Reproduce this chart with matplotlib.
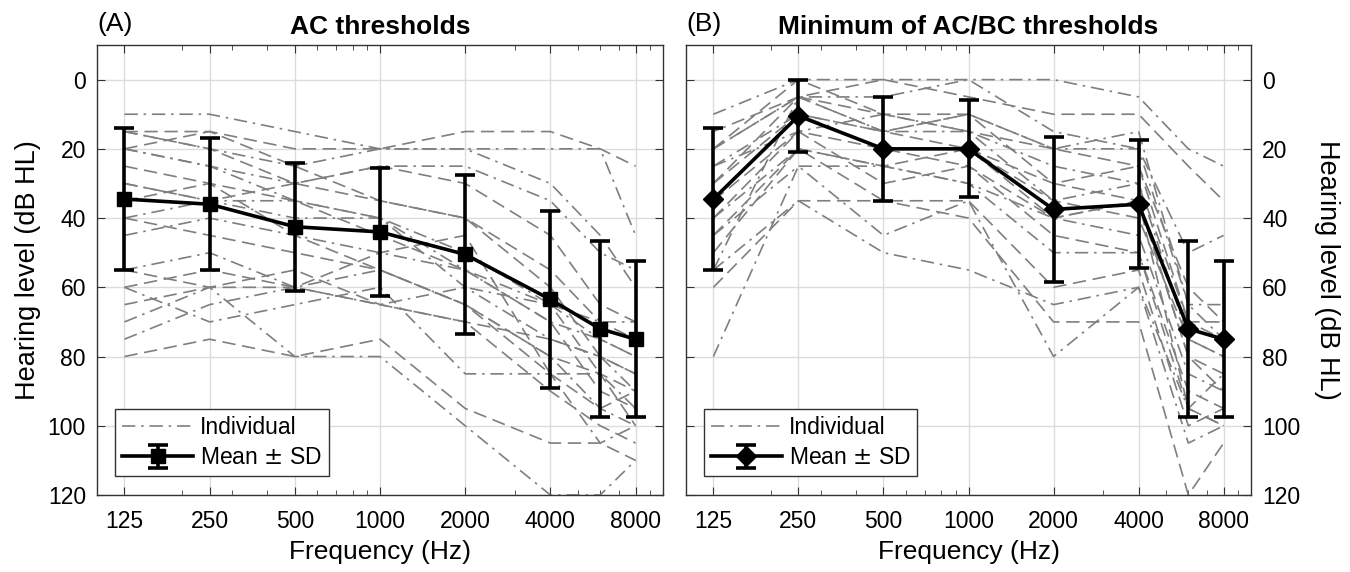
import matplotlib
matplotlib.use("Agg")
import matplotlib.pyplot as plt
from matplotlib.ticker import LogLocator, NullFormatter
from matplotlib.lines import Line2D

plt.rcParams['font.family'] = ['Liberation Sans', 'DejaVu Sans']

# audiometric frequencies (Hz)
freqs = [125, 250, 500, 1000, 2000, 4000, 6000, 8000]
tick_freqs = [125, 250, 500, 1000, 2000, 4000, 8000]
tick_labels = ['125', '250', '500', '1000', '2000', '4000', '8000']

# panel A: AC thresholds, individual ears (dB HL)
ac_individual = [
    [10, 10, 15, 20, 20, 30, 45, 60],
    [15, 15, 20, 20, 15, 15, 20, 25],
    [15, 20, 25, 20, 20, 20, 20, 45],
    [15, 20, 30, 35, 40, 55, 70, 75],
    [20, 25, 30, 25, 25, 35, 50, 55],
    [20, 15, 25, 35, 40, 60, 80, 85],
    [20, 25, 35, 40, 50, 65, 85, 95],
    [30, 35, 30, 25, 30, 45, 65, 70],
    [30, 35, 40, 40, 55, 70, 75, 80],
    [35, 30, 35, 45, 55, 70, 90, 95],
    [40, 35, 35, 40, 60, 75, 80, 90],
    [40, 45, 50, 55, 65, 80, 85, 90],
    [45, 40, 45, 50, 55, 65, 70, 70],
    [55, 60, 60, 50, 45, 85, 85, 100],
    [55, 50, 60, 65, 60, 65, 75, 80],
    [60, 55, 60, 65, 70, 75, 80, 85],
    [60, 70, 65, 60, 85, 85, 105, 100],
    [65, 60, 55, 65, 70, 90, 100, 105],
    [75, 65, 60, 55, 65, 80, 95, 100],
    [80, 75, 80, 75, 95, 105, 105, 110],
    [70, 60, 80, 80, 100, 120, 120, 110],
    [25, 30, 45, 55, 65, 85, 95, 90],
]
ac_mean = [34.5, 36, 42.5, 44, 50.5, 63.5, 72, 75]
ac_sd = [20.5, 19, 18.5, 18.5, 23, 25.5, 25.5, 22.5]

# panel B: minimum of AC/BC thresholds
min_individual = [
    [10, 0, 0, 0, 0, 5, 20, 25],
    [15, 5, 0, 5, 10, 10, 25, 35],
    [20, 5, 5, 0, 15, 20, 50, 45],
    [20, 0, 10, 15, 20, 25, 60, 70],
    [25, 10, 15, 10, 20, 20, 65, 65],
    [30, 5, 15, 20, 30, 25, 70, 70],
    [35, 10, 15, 15, 35, 30, 75, 80],
    [35, 15, 20, 25, 40, 35, 80, 85],
    [40, 20, 25, 30, 40, 45, 85, 90],
    [40, 15, 30, 25, 45, 50, 90, 95],
    [45, 25, 25, 30, 50, 50, 95, 100],
    [50, 20, 35, 35, 60, 55, 100, 95],
    [55, 35, 50, 55, 65, 60, 105, 100],
    [60, 35, 35, 40, 70, 70, 120, 105],
    [80, 25, 45, 35, 80, 60, 95, 85],
    [30, 10, 20, 20, 35, 40, 75, 80],
    [25, 15, 10, 15, 25, 30, 70, 75],
    [45, 20, 25, 20, 40, 35, 80, 90],
    [55, 5, 15, 10, 20, 15, 65, 75],
    [20, 5, 10, 10, 30, 35, 95, 100],
]
min_mean = [34.5, 10.5, 20, 20, 37.5, 36, 72, 75]
min_sd = [20.5, 10.5, 15, 14, 21, 18.5, 25.5, 22.5]

GREY = '#7f7f7f'
DASHDOT = (8, 3.5, 1.5, 3.5)
DASHED = (8, 4)


def draw_panel(ax, individual, mean, sd, marker, msize):
    for i, row in enumerate(individual):
        d = DASHDOT if i % 2 == 0 else DASHED
        ax.plot(freqs, row, color=GREY, lw=1.2, dashes=d, zorder=2)
    ax.errorbar(freqs, mean, yerr=sd, color='black', lw=2.6, elinewidth=2.6,
                capsize=7, capthick=2.6, marker=marker, markersize=msize,
                zorder=5)
    ax.set_xscale('log')
    ax.set_xlim(100, 10000)
    ax.set_ylim(120, -10)
    ax.set_xticks(tick_freqs)
    ax.set_xticklabels(tick_labels)
    ax.xaxis.set_minor_locator(LogLocator(base=10, subs=range(2, 10)))
    ax.xaxis.set_minor_formatter(NullFormatter())
    ax.set_yticks(range(0, 121, 20))
    ax.grid(True, which='major', color='#dcdcdc', lw=1)
    ax.set_axisbelow(True)
    ax.tick_params(which='both', direction='in', top=True, right=True,
                   labelsize=16.5, color='#333333', pad=8)
    ax.tick_params(axis='x', which='major', pad=11)
    ax.tick_params(which='major', length=6)
    ax.tick_params(which='minor', length=3.5)
    for s in ax.spines.values():
        s.set_color('#333333')
        s.set_linewidth(1)
    ax.set_xlabel('Frequency (Hz)', fontsize=19, labelpad=5)
    handles = [Line2D([], [], color=GREY, lw=1.2, dashes=DASHDOT),
               ax.containers[0]]
    leg = ax.legend(handles, ['Individual', 'Mean $\\pm$ SD'],
                    loc='lower left', bbox_to_anchor=(0.032, 0.042),
                    borderaxespad=0, fontsize=16.5, handlelength=3.1,
                    fancybox=False, edgecolor='#333333', framealpha=1,
                    borderpad=0.3, labelspacing=0.3, handletextpad=0.3)
    leg.get_frame().set_linewidth(1)


fig = plt.figure(figsize=(13.5, 5.72), dpi=100)
axA = fig.add_axes([97 / 1350, 77 / 572, 566 / 1350, 450 / 572])
axB = fig.add_axes([686 / 1350, 77 / 572, 565 / 1350, 450 / 572])

draw_panel(axA, ac_individual, ac_mean, ac_sd, 's', 10)
draw_panel(axB, min_individual, min_mean, min_sd, 'D', 10.5)

axA.set_ylabel('Hearing level (dB HL)', fontsize=19.5, labelpad=5)
axA.set_title('AC thresholds', fontsize=19, fontweight='bold', pad=8)
axA.text(0.0, 1.02, '(A)', transform=axA.transAxes, fontsize=19,
         ha='left', va='bottom')

axB.tick_params(which='both', labelleft=False, labelright=True)
axB.yaxis.set_label_position('right')
axB.set_ylabel('Hearing level (dB HL)', fontsize=19.5, rotation=-90,
               va='bottom', labelpad=10)
axB.set_title('Minimum of AC/BC thresholds', fontsize=19,
              fontweight='bold', pad=8)
axB.text(0.0, 1.02, '(B)', transform=axB.transAxes, fontsize=19,
         ha='left', va='bottom')

fig.savefig('out.png', dpi=100)
